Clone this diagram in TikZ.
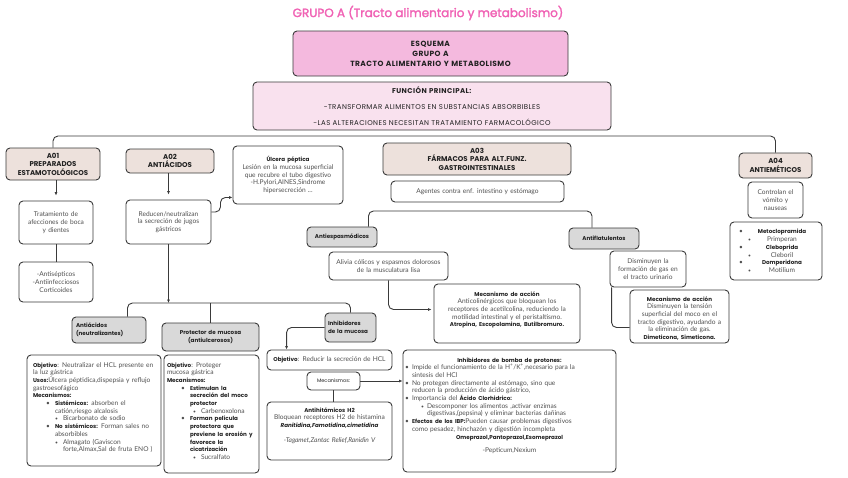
\documentclass[tikz,border=0pt]{standalone}
\usepackage{fontspec}
\setmainfont{Lato}
\newfontfamily\headfont{Poppins}
\newfontfamily\titlefont{Poppins}[FakeBold=2]
\newfontfamily\capsfont{Poppins}[LetterSpace=6]
\usepackage{enumitem}
\usetikzlibrary{arrows.meta,calc}

\definecolor{titlepink}{HTML}{F062B4}
\definecolor{esqpink}{HTML}{F4B9DE}
\definecolor{funpink}{HTML}{F9E1EE}
\definecolor{grpfill}{HTML}{EDE1DC}
\definecolor{grayfill}{HTML}{D9D9D9}
\definecolor{linegray}{HTML}{3A3A3A}
\definecolor{bodytext}{HTML}{505050}
\definecolor{darktext}{HTML}{222222}

\setlist[itemize]{nosep,label=\textbullet}
\setlist[itemize,2]{nosep,label={\tiny\textbullet}}
\newcommand{\bhead}[1]{{\headfont\bfseries\fontsize{5.6}{7.7}\selectfont\color{darktext}#1}}

\tikzset{
  wbox/.style={draw=linegray, line width=0.9pt, rounded corners=4pt, fill=white,
    inner xsep=4pt, inner ysep=0pt, align=center, text=bodytext,
    font=\fontsize{6.6}{7.7}\selectfont},
  grpbox/.style={wbox, fill=grpfill, text=darktext,
    font=\headfont\bfseries\fontsize{7}{8.5}\selectfont},
  gbox/.style={wbox, fill=grayfill, text=darktext,
    font=\headfont\bfseries\fontsize{5.6}{7.5}\selectfont},
  conn/.style={draw=linegray, line width=0.9pt, rounded corners=5pt},
  arr/.style={conn, -{Latex[length=3.5pt,width=3pt]}}
}

\begin{document}
\begin{tikzpicture}[x=1pt,y=-1pt]
 \useasboundingbox (0,0) rectangle (848,477);

 % head
 \node[text=titlepink, font=\titlefont\fontsize{12}{14}\selectfont] (title) at (428,13) {GRUPO A (Tracto alimentario y metabolismo)};
 \node[wbox, fill=esqpink, text=darktext, font=\capsfont\bfseries\fontsize{7.5}{10}\selectfont,
   minimum width=275pt, minimum height=45pt, text width=267pt] (esquema) at (430.5,53.5)
   {ESQUEMA\\GRUPO A\\TRACTO ALIMENTARIO Y METABOLISMO};
 \node[wbox, fill=funpink, text=darktext, font=\capsfont\fontsize{7}{16}\selectfont,
   minimum width=358pt, minimum height=48pt, text width=350pt] (funcion) at (432,106)
   {\textbf{FUNCIÓN PRINCIPAL:}\\-TRANSFORMAR ALIMENTOS EN SUBSTANCIAS ABSORBIBLES\\-LAS ALTERACIONES NECESITAN TRATAMIENTO FARMACOLÓGICO};

 % groups
 \node[grpbox, minimum width=88pt, minimum height=32pt, text width=86pt] (A01) at (53,164) {A01\\PREPARADOS\\ESTAMOTOLÓGICOS};
 \node[grpbox, minimum width=88pt, minimum height=24pt, text width=80pt] (A02) at (170,161) {A02\\ANTIÁCIDOS};
 \node[grpbox, minimum width=188pt, minimum height=32pt, text width=180pt] (A03) at (477,159) {A03\\FÁRMACOS PARA ALT.FUNZ.\\GASTROINTESTINALES};
 \node[grpbox, minimum width=69pt, minimum height=25pt, text width=65pt] (A04) at (775.5,165.5) {A04\\ANTIEMÉTICOS};

 % A01
 \node[wbox, minimum width=72pt, minimum height=43pt, text width=66pt] (trat) at (56,222.5) {Tratamiento de\\afecciones de boca\\y dientes};
 \node[wbox, minimum width=72pt, minimum height=40pt, text width=66pt] (antisep) at (56,282) {-Antisépticos\\-Antiinfecciosos\\Corticoides};

 % A02
 \node[wbox, minimum width=81pt, minimum height=44pt, text width=77pt] (reducen) at (168.5,222) {Reducen/neutralizan\\la secreción de jugos\\gástricos};
 \node[wbox, minimum width=108pt, minimum height=58pt, text width=102pt] (ulcera) at (288,175)
   {\bhead{Úlcera péptica}\\Lesión en la mucosa superficial\\que recubre el tubo digestivo\\-H.Pylori,AINES,Síndrome\\hipersecreción ...};
 \node[gbox, align=left, minimum width=74pt, minimum height=26pt, text width=66pt] (antiac) at (109,330) {Antiácidos\\(neutralizantes)};
 \node[gbox, minimum width=97pt, minimum height=28pt, text width=89pt] (protector) at (210.5,337) {Protector de mucosa\\(antiulcerosos)};
 \node[gbox, align=left, minimum width=51pt, minimum height=29pt, text width=45pt, inner xsep=3pt] (inhib) at (350.5,327.5) {Inhibidores\\de la mucosa};

 \node[wbox, align=left, inner xsep=6pt, minimum width=134pt, text width=122pt, text height=12pt, text depth=99pt] (objA) at (94,410.5)
   {\bhead{Objetivo}: Neutralizar el HCL presente en la luz gástrica\par
    \bhead{Usos:}Úlcera péptidica,dispepsia y reflujo gastroesofágico\par
    \bhead{Mecanismos:}
    \begin{itemize}[leftmargin=22pt]
     \item \bhead{Sistémicos:} absorben el catión,riesgo alcalosis
      \begin{itemize}[leftmargin=8pt]
       \item Bicarbonato de sodio
      \end{itemize}
     \item \bhead{No sistémicos:} Forman sales no absorbibles
      \begin{itemize}[leftmargin=8pt]
       \item Almagato (Gaviscon forte,Almax,Sal de fruta ENO )
      \end{itemize}
    \end{itemize}};
 \node[wbox, align=left, inner xsep=3pt, minimum width=95pt, text width=89pt, text height=12pt, text depth=106pt] (objP) at (211.5,414)
   {\bhead{Objetivo}: Proteger\\mucosa gástrica\par
    \bhead{Mecanismos:}
    \begin{itemize}[leftmargin=23pt]
     \item \bhead{Estimulan la secreción del moco protector}
      \begin{itemize}[leftmargin=11pt]
       \item Carbenoxolona
      \end{itemize}
     \item \bhead{Forman película protectora que previene la erosión y favorece la cicatrización}
      \begin{itemize}[leftmargin=11pt]
       \item Sucralfato
      \end{itemize}
    \end{itemize}};
 \node[wbox, minimum width=125pt, minimum height=20pt, text width=117pt] (objI) at (329.5,360) {\bhead{Objetivo}: Reducir la secreción de HCL};
 \node[wbox, font=\headfont\fontsize{5}{6}\selectfont, text=darktext, minimum width=53pt, minimum height=18pt, text width=45pt] (mecan) at (333.5,381) {Mecanismos:};
 \node[wbox, minimum width=125pt, text width=117pt, text height=10pt, text depth=48pt] (antih) at (329.5,431)
   {\bhead{Antihitámicos H2}\\Bloquean receptores H2 de histamina\\\bhead{\itshape Ranitidina,Famotidina,cimetidina}\\[7pt]{\itshape -Tagamet,Zantac Relief,Ranidin V}};
 \node[wbox, align=left, inner xsep=3pt, minimum width=213pt, text width=207pt, text height=12pt, text depth=110pt] (ibp) at (509.5,411)
   {{\centering\bhead{Inhibidores de bomba de protones:}\par}
    \begin{itemize}[leftmargin=6pt,labelsep=3pt]
     \item Impide el funcionamiento de la H\textsuperscript{+}/K\textsuperscript{+},necesario para la\newline sintesis del HCl
     \item No protegen directamente al estómago, sino que\newline reducen la producción de ácido gástrico,
     \item Importancia del \bhead{Ácido Clorhidrico:}
      \begin{itemize}[leftmargin=15pt]
       \item Descomponer los alimentos ,activar enzimas\newline digestivas,(pepsina) y eliminar bacterias dañinas
      \end{itemize}
     \item \bhead{Efectos de los IBP:}Pueden causar problemas digestivos\newline como pesadez, hinchazón y digestión incompleta
    \end{itemize}
    {\centering\bhead{Omeprazol,Pantoprazol,Esomeprazol}\par}
    \vspace{6pt}
    {\centering -Pepticum,Nexium\par}};

 % A03
 \node[wbox, minimum width=173pt, minimum height=21pt, text width=165pt] (agentes) at (477.5,191.5) {Agentes contra enf. intestino y estómago};
 \node[gbox, minimum width=70pt, minimum height=20pt, text width=62pt] (antiesp) at (342,237) {Antiespasmódicos};
 \node[wbox, minimum width=117pt, minimum height=28pt, text width=111pt] (alivia) at (388.5,266) {Alivia cólicos y espasmos dolorosos\\de la musculatura lisa};
 \node[wbox, minimum width=144pt, text width=138pt, text height=12pt, text depth=47pt] (mec1) at (507,313.5)
   {\bhead{Mecanismo de acción}\\Anticolinérgicos que bloquean los\\receptores de acetilcolina, reduciendo la\\motilidad intestinal y el peristaltismo.\\\bhead{Atropina, Escopolamina, Butilbromuro.}};
 \node[gbox, minimum width=70pt, minimum height=21pt, text width=62pt] (antiflat) at (604,238.5) {Antiflatulentos};
 \node[wbox, minimum width=72pt, minimum height=36pt, text width=68pt] (disminuyen) at (648,269) {Disminuyen la\\formación de gas en\\el tracto urinario};
 \node[wbox, minimum width=97pt, text width=91pt, text height=11pt, text depth=42pt] (mec2) at (679.5,316.5)
   {\bhead{Mecanismo de acción}\\Disminuyen la tensión\\superficial del moco en el\\tracto digestivo, ayudando a\\la eliminación de gas.\\\bhead{Dimeticona, Simeticona.}};

 % A04
 \node[wbox, minimum width=51pt, minimum height=36pt, text width=47pt] (controlan) at (775.5,200) {Controlan el\\vómito y\\nauseas};
 \node[wbox, align=left, minimum width=92pt, minimum height=58pt, text width=84pt] (lista) at (776,251)
   {\makebox[17pt][l]{\hspace{5pt}\textbullet}\makebox[62pt]{\bhead{Metoclopramida}}\\
    \makebox[17pt][r]{\tiny\textbullet}\makebox[62pt]{Primperan}\\
    \makebox[17pt][l]{\hspace{5pt}\textbullet}\makebox[62pt]{\bhead{Cleboprida}}\\
    \makebox[17pt][r]{\tiny\textbullet}\makebox[62pt]{Cleboril}\\
    \makebox[17pt][l]{\hspace{5pt}\textbullet}\makebox[62pt]{\bhead{Domperidona}}\\
    \makebox[17pt][r]{\tiny\textbullet}\makebox[62pt]{Motilium}};

 % connectors
 \coordinate (topbar) at (0,136);
 \coordinate (midbar) at (0,303);
 \coordinate (a03bar) at (0,211);
 \draw[conn] (A01.north) -- (A01.north |- topbar) -- (A04.north |- topbar) -- (A04.north);
 \draw[arr, shorten >=5pt] (trat.north |- A01.south) -- (trat.north);
 \draw[conn] (trat.south) -- (antisep.north);
 \draw[arr, shorten >=5pt] (reducen.north |- A02.south) -- (reducen.north);
 \draw[arr] ($(reducen.east)+(0,-10)$) -- ++(9,0) |- ($(ulcera.south west)+(0,-7)$);
 \draw[arr] (reducen.south) -- (reducen.south |- midbar);
 \coordinate (antiacdrop) at ([xshift=-19pt]antiac.north east);
 \draw[conn] (antiacdrop) -- (antiacdrop |- midbar) -- (inhib.north |- midbar) -- (inhib.north);
 \draw[conn] (protector.north) -- (protector.north |- midbar);
 \coordinate (objIdrop) at ([xshift=20pt]objI.north west);
 \draw[arr] (inhib.west) -| (objIdrop);
 \draw[arr] (mecan.east) -- (mecan.east -| ibp.west);
 \draw[conn] (mecan.south) -- (mecan.south |- antih.north);
 \coordinate (espdrop) at ([xshift=-9pt]antiesp.north east);
 \coordinate (flatdrop) at ([xshift=-12pt]antiflat.north);
 \draw[conn] (espdrop) -- (espdrop |- a03bar) -- (flatdrop |- a03bar) -- (flatdrop);
 \draw[arr, shorten >=2pt] (alivia.south) |- ($(mec1.west)+(0,-4)$);
 \draw[conn] ([xshift=2pt]disminuyen.south west) |- ($(mec2.west)+(0,11)$);
\end{tikzpicture}
\end{document}
